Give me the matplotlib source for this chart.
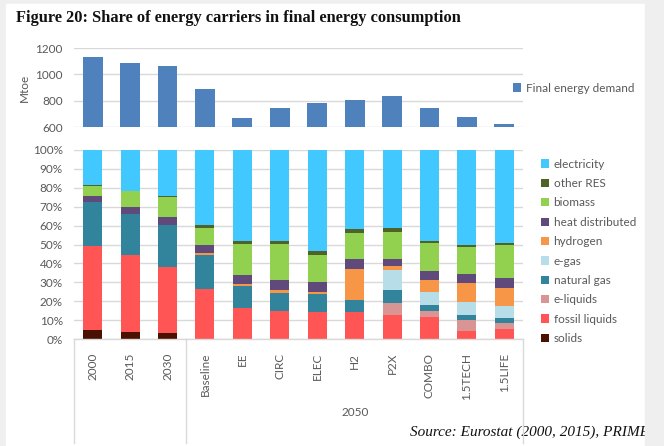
import matplotlib

matplotlib.use("Agg")

import matplotlib.pyplot as plt
import numpy as np
from matplotlib.lines import Line2D
from matplotlib.patches import Rectangle

scenarios = ["2000", "2015", "2030", "Baseline", "EE", "CIRC", "ELEC", "H2",
             "P2X", "COMBO", "1.5TECH", "1.5LIFE"]

# final energy demand, Mtoe
demand = [1132, 1088, 1066, 886, 666, 742, 781, 807, 835, 747, 678, 625]

# shares in %, bottom to top
solids = [5.0, 3.9, 3.2, 0.2, 0, 0, 0, 0, 0, 0, 0, 0]
fossil_liquids = [44.0, 40.3, 34.8, 26.2, 16.6, 14.8, 14.3, 14.3, 12.5, 11.8, 4.1, 5.5]
e_liquids = [0, 0, 0, 0, 0, 0, 0, 0, 6.4, 2.8, 6.2, 3.2]
natural_gas = [23.4, 21.9, 22.2, 17.8, 11.6, 9.4, 9.4, 6.4, 7.1, 3.4, 2.5, 2.4]
e_gas = [0, 0, 0, 0, 0, 0, 0, 0, 10.7, 7.1, 7.0, 6.2]
hydrogen = [0, 0, 0, 1.2, 1.0, 1.5, 1.4, 16.4, 1.8, 5.9, 9.8, 9.6]
heat_distributed = [3.5, 3.9, 4.3, 4.2, 4.7, 5.3, 5.2, 5.0, 3.9, 5.0, 4.8, 5.4]
biomass = [4.8, 8.1, 10.4, 8.9, 16.2, 19.1, 14.3, 14.0, 14.3, 14.8, 14.3, 17.4]
other_res = [0.8, 0.3, 0.7, 1.9, 1.8, 1.8, 2.1, 2.0, 1.8, 1.1, 1.0, 1.1]
electricity = [18.5, 21.6, 24.4, 39.6, 48.1, 48.1, 53.3, 41.9, 41.5, 48.1, 50.3, 49.2]

carriers = [
    ("solids", solids, "#4a1000"),
    ("fossil liquids", fossil_liquids, "#ff5555"),
    ("e-liquids", e_liquids, "#d99594"),
    ("natural gas", natural_gas, "#31849b"),
    ("e-gas", e_gas, "#b7dee8"),
    ("hydrogen", hydrogen, "#f79646"),
    ("heat distributed", heat_distributed, "#604a7b"),
    ("biomass", biomass, "#92d050"),
    ("other RES", other_res, "#4f6228"),
    ("electricity", electricity, "#40c8ff"),
]

W, H = 664, 446
txt = "#595959"
grid = "#d9d9d9"
page_bg = "#efefef"
plt.rcParams["font.family"] = ["Lato", "DejaVu Sans"]

fig = plt.figure(figsize=(W / 100, H / 100), dpi=100, facecolor=page_bg)
fig.patches.append(Rectangle((6 / W, 0), (645 - 6) / W, 1 - 4 / H,
                             transform=fig.transFigure, color="white", zorder=-5))


def fx(px):
    return px / W


def fy(py):
    return 1 - py / H


x = np.arange(len(scenarios))

# top panel: final energy demand
ax1 = fig.add_axes([fx(74), fy(127), fx(523 - 74), (127 - 48) / H])
ax1.set_facecolor("none")
ax1.bar(x, [d - 600 for d in demand], bottom=600, width=0.53, color="#4f81bd",
        label="Final energy demand", zorder=3)
ax1.set_ylim(600, 1200)
ax1.set_xlim(-0.5, len(x) - 0.5)
ax1.set_yticks([600, 800, 1000, 1200])
ax1.set_xticks([])
ax1.grid(axis="y", color=grid, lw=1)
ax1.tick_params(axis="y", length=0, labelsize=8.5, labelcolor=txt, pad=8)
for s in ax1.spines.values():
    s.set_visible(False)
ax1.set_ylabel("Mtoe", color=txt, fontsize=8.5, labelpad=4)
ax1.legend(loc="center left", bbox_to_anchor=(fx(502), fy(88)),
           bbox_transform=fig.transFigure, frameon=False, fontsize=8.5,
           handlelength=0.7, handleheight=0.7, handletextpad=0.4, labelcolor=txt)

# bottom panel: shares
ax2 = fig.add_axes([fx(74), fy(339), fx(523 - 74), (339 - 150) / H])
ax2.set_facecolor("none")
bottom = np.zeros(len(x))
for name, vals, col in carriers:
    ax2.bar(x, vals, bottom=bottom, width=0.51, color=col, label=name, zorder=3)
    bottom += np.array(vals)
ax2.set_ylim(0, 100)
ax2.set_xlim(-0.5, len(x) - 0.5)
ax2.set_yticks(range(0, 101, 10))
ax2.set_yticklabels([f"{v}%" for v in range(0, 101, 10)])
ax2.grid(axis="y", color=grid, lw=1)
ax2.tick_params(axis="y", length=0, labelsize=8.5, labelcolor=txt, pad=8)
ax2.set_xticks(x)
ax2.set_xticklabels(scenarios, rotation=90)
ax2.tick_params(axis="x", length=0, labelsize=8.5, labelcolor=txt, pad=10)
for s in ax2.spines.values():
    s.set_visible(False)

handles, labels = ax2.get_legend_handles_labels()
ax2.legend(handles[::-1], labels[::-1], loc="upper left",
           bbox_to_anchor=(fx(530), fy(148)), bbox_transform=fig.transFigure,
           frameon=False, fontsize=8.5, handlelength=0.7, handleheight=0.7,
           handletextpad=0.4, labelspacing=0.71, labelcolor=txt)

# category grouping lines
for px in [74, 186, 523]:
    fig.add_artist(Line2D([fx(px), fx(px)], [fy(339), fy(443)], color=grid, lw=1))
fig.add_artist(Line2D([fx(74), fx(523)], [fy(339), fy(339)], color=grid, lw=1))
fig.text(fx(355), fy(412), "2050", ha="center", va="center", fontsize=8.5, color=txt)

fig.text(fx(16), fy(18), "Figure 20: Share of energy carriers in final energy consumption",
         family="Liberation Serif", weight="bold", fontsize=11.8, va="center", color="#111111")
fig.text(fx(410), fy(432), "Source: Eurostat (2000, 2015), PRIMES",
         family="Liberation Serif", style="italic", fontsize=11, va="center",
         color="#111111", zorder=1)
# page edge hides the end of the source line, as in the scan
fig.add_artist(Rectangle((645 / W, 0), 1 - 645 / W, 1, transform=fig.transFigure,
                         color=page_bg, zorder=10))

fig.savefig("out.png", dpi=100, facecolor=fig.get_facecolor())
